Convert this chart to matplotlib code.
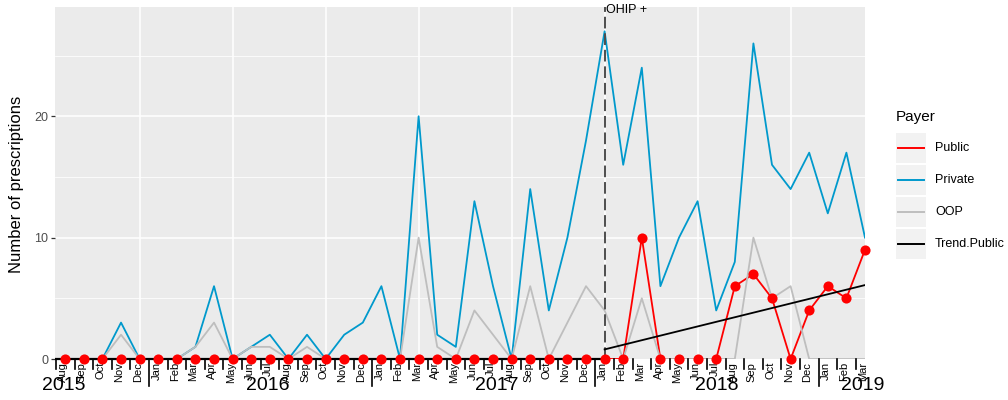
import matplotlib
matplotlib.use("Agg")
import matplotlib.pyplot as plt
from matplotlib.patches import Rectangle

plt.rcParams['font.family'] = ['Liberation Sans', 'DejaVu Sans']

# ---- data: monthly prescriptions, Aug 2015 .. Mar 2019 ----
months = ["Aug", "Sep", "Oct", "Nov", "Dec",
          "Jan", "Feb", "Mar", "Apr", "May", "Jun", "Jul", "Aug", "Sep", "Oct", "Nov", "Dec",
          "Jan", "Feb", "Mar", "Apr", "May", "Jun", "Jul", "Aug", "Sep", "Oct", "Nov", "Dec",
          "Jan", "Feb", "Mar", "Apr", "May", "Jun", "Jul", "Aug", "Sep", "Oct", "Nov", "Dec",
          "Jan", "Feb", "Mar"]

public = [0, 0, 0, 0, 0,
          0, 0, 0, 0, 0, 0, 0, 0, 0, 0, 0, 0,
          0, 0, 0, 0, 0, 0, 0, 0, 0, 0, 0, 0,
          0, 0, 10, 0, 0, 0, 0, 6, 7, 5, 0, 4,
          6, 5, 9]

private = [0, 0, 0, 3, 0,
           0, 0, 1, 6, 0, 1, 2, 0, 2, 0, 2, 3,
           6, 0, 20, 2, 1, 13, 6, 0, 14, 4, 10, 18,
           27, 16, 24, 6, 10, 13, 4, 8, 26, 16, 14, 17,
           12, 17, 10]

oop = [0, 0, 0, 2, 0,
       0, 0, 1, 3, 0, 1, 1, 0, 1, 0, 0, 0,
       0, 0, 10, 1, 0, 4, 2, 0, 6, 0, 3, 6,
       4, 0, 5, 0, 0, 0, 0, 0, 10, 5, 6, 0,
       0, 0, 0]

# segmented trend for the public payer: flat before OHIP+, fitted line after
trend_pre_idx = [-0.55, 29]
trend_pre_val = [0, 0]
trend_post_idx = [29, 43]
trend_post_val = [0.79, 6.09]

ohip_idx = 29
years = ["2015", "2016", "2017", "2018", "2019"]
year_pos = [-0.1, 10.9, 23.2, 35.05, 42.85]
vgrid_idx = [4, 9, 14, 19, 24, 29, 34, 39]

legend_labels = ["Public", "Private", "OOP", "Trend.Public"]
colors = {"Public": "#FF0000", "Private": "#0099CC", "OOP": "#BEBEBE",
          "Trend.Public": "#000000"}

W, H = 1008, 400
fig = plt.figure(figsize=(W / 100, H / 100), dpi=100)

L, R, T, B = 55, 865, 7, 359
ax = fig.add_axes([L / W, 1 - B / H, (R - L) / W, (B - T) / H])
ax.set_facecolor('#EBEBEB')
for s in ax.spines.values():
    s.set_visible(False)
ax.set_xlim(-0.55, 43.0)
ax.set_ylim(0, 29)
x = list(range(len(months)))

# grid
for v in [5, 15, 25]:
    ax.axhline(v, color='white', lw=0.55, zorder=0.5)
for v in [10, 20]:
    ax.axhline(v, color='white', lw=1.1, zorder=0.6)
for i in vgrid_idx:
    ax.axvline(i, color='white', lw=1.1, zorder=0.6)

ax.set_yticks([0, 10, 20])
ax.set_xticks([])
ax.tick_params(axis='y', length=3, width=0.9, color='#333333',
               labelsize=9, labelcolor='#4D4D4D', pad=2)

# series lines
ax.plot(x, public, color=colors["Public"], lw=1.3, zorder=2)
ax.plot(x, private, color=colors["Private"], lw=1.3, zorder=2.1)
ax.plot(x, oop, color=colors["OOP"], lw=1.3, zorder=2.2)

# OHIP+ marker
ax.plot([ohip_idx, ohip_idx], [0, 29], color='#4D4D4D', lw=1.4,
        ls=(0, (6, 2.5)), zorder=2.5)
ax.text(ohip_idx + 0.05, 28.5, "OHIP +", fontsize=9, ha='left',
        va='baseline', clip_on=False)

# trend
ax.plot(trend_pre_idx, trend_pre_val, color='black', lw=1.6, zorder=3,
        clip_on=False, solid_capstyle='butt')
ax.plot(trend_post_idx, trend_post_val, color='black', lw=1.3, zorder=3)

# public points
ax.plot(x, public, 'o', color=colors["Public"], ms=7.3, mew=0, zorder=5,
        clip_on=False)

# month ticks and labels below the panel
px = 29 / (B - T)  # data units per pixel
for i, m in enumerate(months):
    b = i - 0.5
    length = 27 if m == "Jan" else 10
    ax.plot([b, b], [0, -length * px], color='black', lw=1.2, clip_on=False,
            zorder=4)
    ax.text(i - 0.1, -3 * px, m, rotation=90, ha='center', va='top',
            fontsize=8, color='black', clip_on=False)
for yr, p in zip(years, year_pos):
    ax.text(p, -26 * px, yr, fontsize=14, ha='center', va='center',
            color='black', clip_on=False)

# overlay in pixel coordinates for axis title and legend
ov = fig.add_axes([0, 0, 1, 1], facecolor='none')
ov.set_xlim(0, W)
ov.set_ylim(H, 0)
ov.axis('off')
ov.text(17, 184, "Number of prescriptions", rotation=90, fontsize=12,
        ha='center', va='center')

ov.text(896, 117, "Payer", fontsize=11, ha='left', va='center')
row_top = [133, 165, 197, 229]
for lab, top in zip(legend_labels, row_top):
    ov.add_patch(Rectangle((896, top), 30, 29.5, facecolor='#F2F2F2',
                           edgecolor='none'))
    cy = top + 15
    ov.plot([898, 924], [cy, cy], color=colors[lab], lw=1.4)
    ov.text(935, cy, lab, fontsize=9, ha='left', va='center')

fig.savefig("out.png", dpi=100)
